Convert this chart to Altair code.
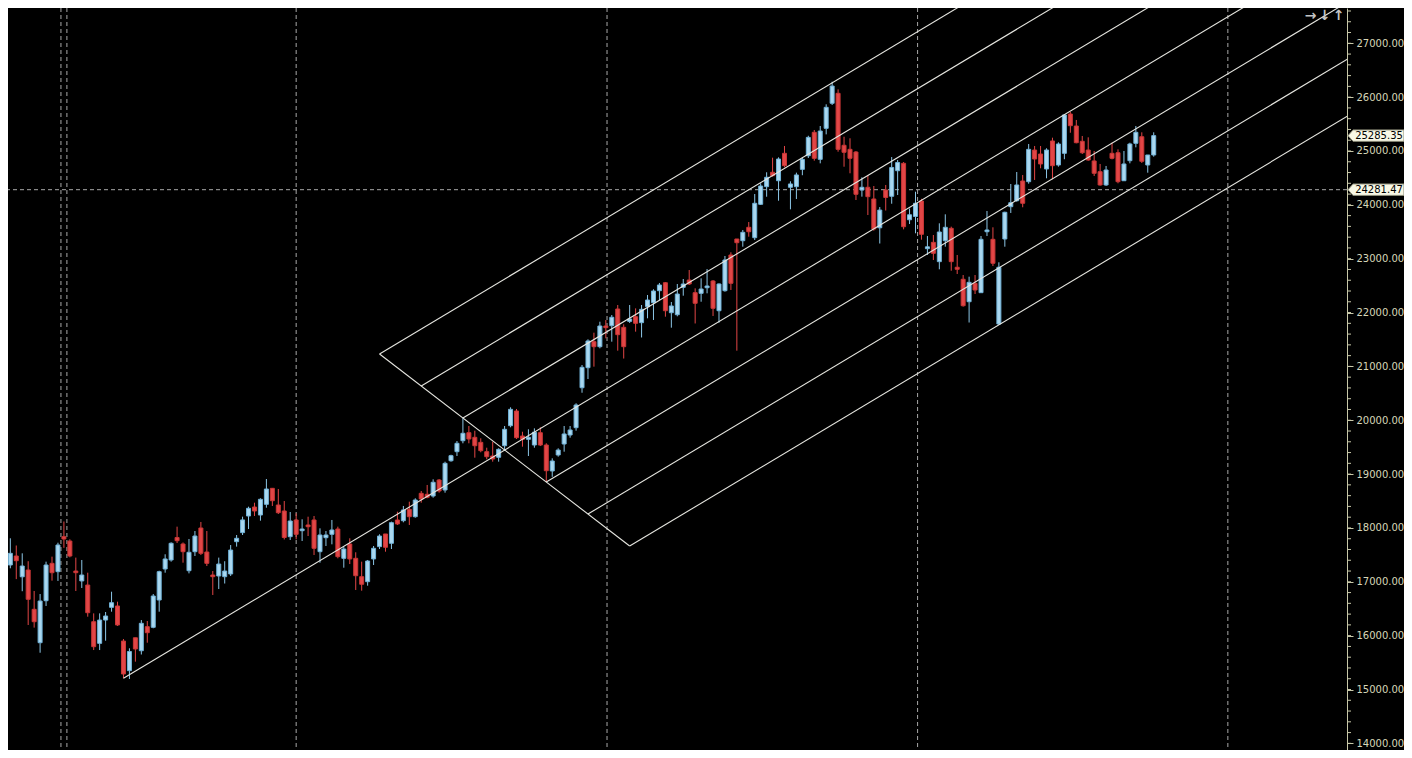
import altair as alt
import pandas as pd

# ---- weekly candles (index 0..192) ----
opens = [17312, 17479, 17093, 17219, 16489, 15869, 16649, 17343, 17188, 17838,
         17757, 17200, 17016, 16940, 16259, 15857, 16290, 16526, 16551, 15900,
         15350, 15961, 15720, 16167, 16155, 16662, 17238, 17405, 17823, 17702,
         17206, 17559, 17999, 17553, 17126, 17108, 17095, 17145, 17745, 17913,
         18222, 18389, 18240, 18439, 18736, 18426, 18315, 17838, 18148, 17949,
         18055, 18148, 17559, 17819, 17882, 17980, 17436, 17702, 17436, 17095,
         17002, 17424, 17653, 17888, 17715, 18148, 18135, 18346, 18209, 18643,
         18625, 18593, 18890, 18705, 19248, 19416, 19620, 19769, 19683, 19590,
         19416, 19336, 19312, 19527, 19899, 20172, 19707, 19646, 19540, 19769,
         19540, 19058, 19355, 19559, 19726, 19862, 20604, 20976, 21459, 21366,
         21750, 21756, 22066, 21726, 21836, 21923, 21812, 22109, 22183, 22406,
         22554, 21997, 21960, 22469, 22604, 22369, 22357, 22461, 22586, 22034,
         22406, 23069, 23366, 23334, 23583, 23390, 24010, 24338, 24605, 24448,
         24957, 24326, 24338, 24659, 24912, 25347, 24845, 25421, 25886, 26071,
         25106, 25031, 24981, 24276, 24326, 24109, 23574, 24276, 24159, 24634,
         24771, 23723, 23784, 24071, 23186, 23304, 22945, 23334, 23564, 22841,
         22618, 22201, 22543, 22369, 23501, 23360, 21787, 23366, 23966, 24077,
         24443, 24430, 25018, 24944, 24666, 25186, 24740, 24957, 25687, 25464,
         25180, 25018, 24815, 24616, 24369, 24957, 24968, 24448, 24820, 25143,
         25265, 24740, 24926]
highs = [17808, 17674, 17529, 17382, 16829, 16773, 17374, 17467, 17726, 18120,
         17789, 17449, 17405, 17169, 16414, 16414, 16439, 16816, 16631, 15937,
         15765, 15961, 16290, 16272, 16773, 17206, 17511, 17733, 18024, 17730,
         17795, 17943, 18111, 17943, 17200, 17449, 17382, 17683, 17869, 18210,
         18395, 18469, 18551, 18909, 18742, 18723, 18500, 18296, 18272, 18161,
         18209, 18222, 17993, 17943, 18148, 18024, 17653, 17808, 17548, 17374,
         17405, 17665, 17882, 17888, 18117, 18302, 18408, 18488, 18551, 18686,
         18798, 18903, 18909, 19230, 19360, 19614, 20042, 19893, 19806, 19665,
         19490, 19602, 19479, 19893, 20240, 20209, 19787, 19832, 19850, 19869,
         19572, 19293, 19479, 19893, 19893, 20315, 21026, 21503, 21626, 21830,
         21861, 21954, 22140, 21782, 22140, 22078, 22140, 22326, 22432, 22549,
         22567, 22196, 22530, 22623, 22790, 22450, 22635, 22808, 22604, 22543,
         23050, 23119, 23366, 23533, 23681, 24201, 24400, 24605, 24876, 24882,
         25093, 24437, 24598, 24882, 25283, 25390, 25464, 25867, 26286, 26145,
         25265, 25236, 25000, 24511, 24554, 24350, 23959, 24369, 24888, 24832,
         24795, 23931, 24244, 24112, 23421, 23440, 23657, 23824, 23595, 23069,
         22697, 22666, 22697, 23421, 23886, 23583, 22933, 23873, 24387, 24610,
         24554, 25130, 25093, 25093, 25050, 25247, 25161, 25680, 25724, 25576,
         25279, 25254, 25000, 24759, 24722, 25154, 25031, 25000, 25154, 25464,
         25347, 24926, 25347]
lows = [17251, 17050, 16825, 16198, 16149, 15683, 16551, 17021, 17016, 17631,
        17455, 16829, 16885, 16352, 15733, 15733, 15906, 16445, 16180, 15208,
        15195, 15517, 15650, 15869, 16137, 16445, 17169, 17374, 17720, 17355,
        17157, 17479, 17498, 17293, 16755, 16866, 16968, 17108, 17653, 17869,
        17980, 18222, 18135, 18376, 18408, 18259, 17786, 17776, 17789, 17758,
        17850, 17498, 17355, 17665, 17696, 17436, 17262, 17330, 16848, 16835,
        16928, 17312, 17609, 17559, 17609, 18055, 18105, 18055, 18190, 18469,
        18551, 18562, 18655, 18655, 19230, 19336, 19572, 19572, 19305, 19405,
        19275, 19231, 19231, 19429, 19869, 19652, 19509, 19336, 19490, 19521,
        18853, 18950, 19324, 19416, 19676, 19806, 20511, 20766, 20995, 21336,
        21521, 21459, 21292, 21146, 21806, 21645, 21537, 21893, 21862, 22233,
        21923, 21719, 21930, 22313, 22512, 21797, 22201, 22357, 21936, 21812,
        22387, 22419, 21292, 23223, 23409, 23347, 23997, 24151, 24524, 24077,
        24697, 23917, 24108, 24550, 24870, 24820, 24771, 25309, 25854, 24987,
        24708, 24586, 24090, 24152, 23811, 23520, 23282, 23895, 24021, 24183,
        23545, 23644, 23472, 23353, 23069, 22976, 22803, 23223, 22777, 22716,
        22109, 21815, 22344, 22369, 23421, 22864, 21769, 23223, 23849, 24058,
        23955, 24393, 24462, 24679, 24493, 24475, 24709, 24847, 25339, 25143,
        24944, 24820, 24536, 24356, 24350, 24845, 24400, 24443, 24771, 25068,
        24778, 24597, 24895]
closes = [17529, 17392, 17293, 16675, 16259, 16643, 17312, 17169, 17683, 17795,
          17479, 17169, 17126, 16426, 15795, 16290, 16365, 16612, 16198, 15288,
          15706, 15752, 16229, 16055, 16736, 17188, 17424, 17715, 17763, 17559,
          17548, 17850, 17529, 17343, 17095, 17330, 17200, 17590, 17808, 18149,
          18365, 18315, 18532, 18723, 18506, 18283, 17823, 18129, 17882, 17980,
          18023, 17622, 17869, 17869, 17962, 17467, 17609, 17424, 17113, 16954,
          17386, 17622, 17850, 17641, 18098, 18074, 18334, 18209, 18519, 18538,
          18569, 18848, 18686, 19200, 19342, 19572, 19758, 19652, 19527, 19435,
          19323, 19280, 19460, 19832, 20203, 19676, 19646, 19683, 19778, 19540,
          19063, 19243, 19447, 19745, 19819, 20283, 20983, 21472, 21366, 21750,
          21719, 21912, 21589, 21366, 21880, 21800, 22060, 22233, 22400, 22512,
          22034, 22122, 22344, 22530, 22530, 22172, 22437, 22493, 22079, 22530,
          22976, 22543, 23297, 23490, 23501, 24029, 24350, 24512, 24542, 24851,
          24727, 24388, 24555, 24845, 25253, 24864, 25371, 25811, 26206, 25031,
          24976, 24864, 24196, 24326, 24152, 23552, 23903, 24137, 24694, 24786,
          23594, 23816, 24029, 23453, 23221, 23100, 23496, 23583, 22945, 22803,
          22127, 22561, 22419, 23360, 23533, 22915, 22841, 23862, 24040, 24369,
          24029, 25031, 24851, 24759, 25018, 24727, 25130, 25669, 25470, 25154,
          24968, 24833, 24586, 24369, 24647, 24864, 24430, 24759, 25130, 25347,
          24809, 24926, 25285.35]

last_price = 25285.35
cursor_price = 24281.47
grid_weeks = [8.5, 9.5, 48.0, 100.2, 152.35, 204.45]
price_ticks = list(range(14000, 28000, 1000))
minor_ticks = list(range(13800, 27800, 200))
pivot_weeks = [19, 76, 90]          # pitchfork pivots: low, high, low
fork_levels = [-3, -2, -1, 0, 1, 2, 3]
nav_arrows = ["\u2192", "\u2193", "\u2191"]

# ---- tables ----
n = len(opens)
df = pd.DataFrame({"week": list(range(n)), "open": opens, "high": highs,
                   "low": lows, "close": closes})
df["dir"] = ["up" if c >= o else "down" for o, c in zip(opens, closes)]

p1 = (pivot_weeks[0], lows[pivot_weeks[0]])
p2 = (pivot_weeks[1], highs[pivot_weeks[1]])
p3 = (pivot_weeks[2], lows[pivot_weeks[2]])
mx, my = (p2[0] + p3[0]) / 2, (p2[1] + p3[1]) / 2
dx, dy = mx - p1[0], my - p1[1]
hx, hy = p3[0] - mx, p3[1] - my
rows = []
for f in fork_levels:
    sx, sy = (p1 if f == 0 else (mx + f * hx, my + f * hy))
    t = (260 - sx) / dx
    rows.append({"x": sx, "y": sy, "x2": sx + t * dx, "y2": sy + t * dy})
lo, hi = min(fork_levels), max(fork_levels)
rows.append({"x": mx + lo * hx, "y": my + lo * hy, "x2": mx + hi * hx, "y2": my + hi * hy})
fork = pd.DataFrame(rows)

grid_df = pd.DataFrame({"gx": grid_weeks})
cursor_df = pd.DataFrame({"p": [cursor_price]})
minor_df = pd.DataFrame({"p": minor_ticks})
labels_df = pd.DataFrame({"p": [last_price, cursor_price],
                          "txt": [f"{last_price:.2f}", f"{cursor_price:.2f}"]})

# ---- geometry / style ----
W, H = 1339, 742            # plot area; total chart 1396 wide
PAD_R = 57
xscale = alt.Scale(domain=[0.45, 0.45 + W / 6.0], nice=False, zero=False)
yscale = alt.Scale(domain=[13876.6, 27655.5], nice=False, zero=False)
yaxis = alt.Axis(orient="right", values=price_ticks, format=".2f", title=None,
                 grid=False, tickSize=6, tickColor="#c8c8a8", domainColor="#c8c8a8",
                 labelColor="#d6d6b8", labelFont="DejaVu Sans", labelFontSize=10,
                 labelPadding=3, labelOverlap=False, labelBound=False, labelFlush=False)
dir_fill = alt.Scale(domain=["up", "down"], range=["#aad8f0", "#e24646"])
dir_stroke = alt.Scale(domain=["up", "down"], range=["#70b2d8", "#c93636"])
dir_wick = alt.Scale(domain=["up", "down"], range=["#8cc6e6", "#e24646"])


def Y(field):
    return alt.Y(field, scale=yscale, axis=yaxis)


base = alt.Chart(df)

grid = alt.Chart(grid_df).mark_rule(color="#a8a8a8", strokeWidth=1, strokeDash=[4, 3]).encode(
    x=alt.X("gx:Q", scale=xscale, axis=None))

cursor = alt.Chart(cursor_df).mark_rule(color="#a8a8a8", strokeWidth=1, strokeDash=[4, 3]).encode(
    y=Y("p:Q"))

wicks = base.mark_rule(strokeWidth=1, clip=True).encode(
    x=alt.X("week:Q", scale=xscale, axis=None),
    y=Y("low:Q"),
    y2="high:Q",
    color=alt.Color("dir:N", scale=dir_wick, legend=None))

bodies = base.mark_bar(size=4, strokeWidth=1, clip=True).encode(
    x=alt.X("week:Q", scale=xscale, axis=None),
    y=Y("open:Q"),
    y2="close:Q",
    fill=alt.Fill("dir:N", scale=dir_fill, legend=None),
    stroke=alt.Stroke("dir:N", scale=dir_stroke, legend=None))

fork_lines = alt.Chart(fork).mark_rule(color="#e6e6e0", strokeWidth=1.1, clip=True).encode(
    x=alt.X("x:Q", scale=xscale, axis=None), x2="x2:Q",
    y=Y("y:Q"), y2="y2:Q")

minor = alt.Chart(minor_df).mark_rule(color="#c8c8a8", strokeWidth=1).encode(
    x=alt.value(W), x2=alt.value(W + 4), y=Y("p:Q"))

BOX_W = 56
box_shape = "M-1,0L-0.82,-0.204L1,-0.204L1,0.204L-0.82,0.204Z"
boxes = alt.Chart(labels_df).mark_point(shape=box_shape, size=BOX_W * BOX_W, filled=True,
                                        fill="#f8f8e6", stroke="#8c8c78", strokeWidth=1,
                                        opacity=1).encode(
    x=alt.value(W + 1 + BOX_W / 2), y=Y("p:Q"))
box_text = alt.Chart(labels_df).mark_text(font="DejaVu Sans", fontSize=10, color="#000000",
                                          align="center", baseline="middle").encode(
    x=alt.value(W + 32), y=Y("p:Q"), text="txt:N")

arrow_layers = []
for j, a in enumerate(nav_arrows):
    arrow_layers.append(
        alt.Chart(pd.DataFrame({"t": [a]})).mark_text(
            font="DejaVu Sans", fontSize=14, fontWeight="bold", color="#c4c4c4",
            align="center", baseline="middle").encode(
            x=alt.value(1302.5 + 14 * j), y=alt.value(8), text="t:N"))

chart = alt.layer(cursor, grid, wicks, bodies, fork_lines, minor, boxes, box_text,
                  *arrow_layers).properties(
    width=W, height=H, background="#000000",
    padding={"left": 0, "top": 0, "right": PAD_R, "bottom": 0},
    autosize=alt.AutoSizeParams(type="none"),
).configure_view(stroke=None, fill="#000000")

chart.save("out.html", embed_options={"renderer": "svg", "actions": False})
